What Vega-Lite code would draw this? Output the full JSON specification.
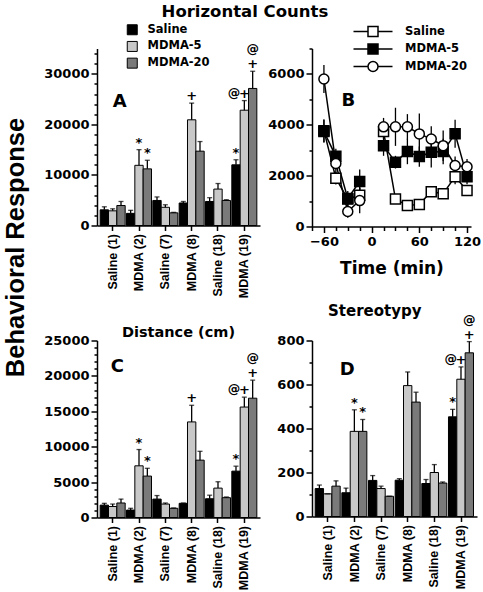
{
  "$schema": "https://vega.github.io/schema/vega-lite/v6.json",
  "background": "white",
  "padding": {"left": 3, "top": 3.5, "right": 0, "bottom": 0},
  "title": {"text": "Horizontal Counts", "fontSize": 16.5, "anchor": "middle", "dx": 0},
  "config": {
    "font": "DejaVu Sans",
    "view": {"stroke": null},
    "axis": {"labelFont": "DejaVu Sans", "labelFontWeight": "bold", "labelFontSize": 13, "labelColor": "black", "titleFont": "DejaVu Sans", "titleFontWeight": "bold", "titleColor": "black", "domainColor": "black", "tickColor": "black", "domainWidth": 1.5, "tickWidth": 1.5, "grid": false, "labelOverlap": false},
    "legend": {"labelFont": "DejaVu Sans", "labelFontWeight": "bold", "labelColor": "black"},
    "title": {"font": "DejaVu Sans", "fontWeight": "bold", "color": "black"},
    "text": {"font": "DejaVu Sans", "fontWeight": "bold", "color": "black"}
  },
  "datasets": {
    "hc": [
      {"group": "Saline (1)", "cond": "Saline", "mean": 3100, "hi": 3700},
      {"group": "Saline (1)", "cond": "MDMA-5", "mean": 2900, "hi": 3300},
      {"group": "Saline (1)", "cond": "MDMA-20", "mean": 3950, "hi": 4750},
      {"group": "MDMA (2)", "cond": "Saline", "mean": 2400, "hi": 3000},
      {"group": "MDMA (2)", "cond": "MDMA-5", "mean": 11900, "hi": 15000, "sig": "*"},
      {"group": "MDMA (2)", "cond": "MDMA-20", "mean": 11200, "hi": 12900, "sig": "*"},
      {"group": "Saline (7)", "cond": "Saline", "mean": 4950, "hi": 5650},
      {"group": "Saline (7)", "cond": "MDMA-5", "mean": 3600, "hi": 4100},
      {"group": "Saline (7)", "cond": "MDMA-20", "mean": 2500, "hi": 2600},
      {"group": "MDMA (8)", "cond": "Saline", "mean": 4450, "hi": 4750},
      {"group": "MDMA (8)", "cond": "MDMA-5", "mean": 20900, "hi": 24200, "sig": "+"},
      {"group": "MDMA (8)", "cond": "MDMA-20", "mean": 14700, "hi": 16600},
      {"group": "Saline (18)", "cond": "Saline", "mean": 4750, "hi": 5500},
      {"group": "Saline (18)", "cond": "MDMA-5", "mean": 7200, "hi": 8300},
      {"group": "Saline (18)", "cond": "MDMA-20", "mean": 4950, "hi": 5100},
      {"group": "MDMA (19)", "cond": "Saline", "mean": 12000, "hi": 13000, "sig": "*"},
      {"group": "MDMA (19)", "cond": "MDMA-5", "mean": 22800, "hi": 24700, "sig": "+", "sigL": "@"},
      {"group": "MDMA (19)", "cond": "MDMA-20", "mean": 27100, "hi": 30500, "sig": "+", "sigTop": "@"}
    ],
    "dist": [
      {"group": "Saline (1)", "cond": "Saline", "mean": 1750, "hi": 2000},
      {"group": "Saline (1)", "cond": "MDMA-5", "mean": 1550, "hi": 1900},
      {"group": "Saline (1)", "cond": "MDMA-20", "mean": 2050, "hi": 2600},
      {"group": "MDMA (2)", "cond": "Saline", "mean": 1050, "hi": 1300},
      {"group": "MDMA (2)", "cond": "MDMA-5", "mean": 7300, "hi": 9600, "sig": "*"},
      {"group": "MDMA (2)", "cond": "MDMA-20", "mean": 5850, "hi": 6950, "sig": "*"},
      {"group": "Saline (7)", "cond": "Saline", "mean": 2600, "hi": 3100},
      {"group": "Saline (7)", "cond": "MDMA-5", "mean": 1900, "hi": 2050},
      {"group": "Saline (7)", "cond": "MDMA-20", "mean": 1300, "hi": 1350},
      {"group": "MDMA (8)", "cond": "Saline", "mean": 2000, "hi": 2050},
      {"group": "MDMA (8)", "cond": "MDMA-5", "mean": 13500, "hi": 15850, "sig": "+"},
      {"group": "MDMA (8)", "cond": "MDMA-20", "mean": 8100, "hi": 9350},
      {"group": "Saline (18)", "cond": "Saline", "mean": 2650, "hi": 3150},
      {"group": "Saline (18)", "cond": "MDMA-5", "mean": 4150, "hi": 5050},
      {"group": "Saline (18)", "cond": "MDMA-20", "mean": 2800, "hi": 2900},
      {"group": "MDMA (19)", "cond": "Saline", "mean": 6550, "hi": 7250, "sig": "*"},
      {"group": "MDMA (19)", "cond": "MDMA-5", "mean": 15600, "hi": 17000, "sig": "+", "sigL": "@"},
      {"group": "MDMA (19)", "cond": "MDMA-20", "mean": 16850, "hi": 19400, "sig": "+", "sigTop": "@"}
    ],
    "stereo": [
      {"group": "Saline (1)", "cond": "Saline", "mean": 127, "hi": 143},
      {"group": "Saline (1)", "cond": "MDMA-5", "mean": 103, "hi": 103},
      {"group": "Saline (1)", "cond": "MDMA-20", "mean": 138, "hi": 162},
      {"group": "MDMA (2)", "cond": "Saline", "mean": 108, "hi": 129},
      {"group": "MDMA (2)", "cond": "MDMA-5", "mean": 387, "hi": 485, "sig": "*"},
      {"group": "MDMA (2)", "cond": "MDMA-20", "mean": 387, "hi": 441, "sig": "*"},
      {"group": "Saline (7)", "cond": "Saline", "mean": 164, "hi": 186},
      {"group": "Saline (7)", "cond": "MDMA-5", "mean": 127, "hi": 138},
      {"group": "Saline (7)", "cond": "MDMA-20", "mean": 92, "hi": 92},
      {"group": "MDMA (8)", "cond": "Saline", "mean": 165, "hi": 172},
      {"group": "MDMA (8)", "cond": "MDMA-5", "mean": 595, "hi": 657},
      {"group": "MDMA (8)", "cond": "MDMA-20", "mean": 520, "hi": 565},
      {"group": "Saline (18)", "cond": "Saline", "mean": 150, "hi": 168},
      {"group": "Saline (18)", "cond": "MDMA-5", "mean": 200, "hi": 236},
      {"group": "Saline (18)", "cond": "MDMA-20", "mean": 152, "hi": 157},
      {"group": "MDMA (19)", "cond": "Saline", "mean": 453, "hi": 487, "sig": "*"},
      {"group": "MDMA (19)", "cond": "MDMA-5", "mean": 624, "hi": 680, "sig": "+", "sigL": "@"},
      {"group": "MDMA (19)", "cond": "MDMA-20", "mean": 744, "hi": 795, "sig": "+", "sigTop": "@"}
    ],
    "tc": [
      {"time": -60, "cond": "Saline", "phase": "pre", "value": 3770, "lo": 3320, "hi": 4220},
      {"time": -45, "cond": "Saline", "phase": "pre", "value": 1900, "lo": 1650, "hi": 2150},
      {"time": -30, "cond": "Saline", "phase": "pre", "value": 1080, "lo": 830, "hi": 1330},
      {"time": -15, "cond": "Saline", "phase": "pre", "value": 1230, "lo": 930, "hi": 1530},
      {"time": 15, "cond": "Saline", "phase": "post", "value": 3740, "lo": 3440, "hi": 4040},
      {"time": 30, "cond": "Saline", "phase": "post", "value": 1080, "lo": 930, "hi": 1230},
      {"time": 45, "cond": "Saline", "phase": "post", "value": 830, "lo": 730, "hi": 930},
      {"time": 60, "cond": "Saline", "phase": "post", "value": 870, "lo": 770, "hi": 970},
      {"time": 75, "cond": "Saline", "phase": "post", "value": 1370, "lo": 1220, "hi": 1520},
      {"time": 90, "cond": "Saline", "phase": "post", "value": 1290, "lo": 1140, "hi": 1440},
      {"time": 105, "cond": "Saline", "phase": "post", "value": 1960, "lo": 1660, "hi": 2260},
      {"time": 120, "cond": "Saline", "phase": "post", "value": 1420, "lo": 1220, "hi": 1620},
      {"time": -60, "cond": "MDMA-5", "phase": "pre", "value": 3740, "lo": 3290, "hi": 4190},
      {"time": -45, "cond": "MDMA-5", "phase": "pre", "value": 2760, "lo": 2460, "hi": 3060},
      {"time": -30, "cond": "MDMA-5", "phase": "pre", "value": 1100, "lo": 800, "hi": 1400},
      {"time": -15, "cond": "MDMA-5", "phase": "pre", "value": 1770, "lo": 1300, "hi": 2240},
      {"time": 15, "cond": "MDMA-5", "phase": "post", "value": 3180, "lo": 2780, "hi": 3580},
      {"time": 30, "cond": "MDMA-5", "phase": "post", "value": 2530, "lo": 2280, "hi": 2780},
      {"time": 45, "cond": "MDMA-5", "phase": "post", "value": 2950, "lo": 2450, "hi": 3450},
      {"time": 60, "cond": "MDMA-5", "phase": "post", "value": 2750, "lo": 2350, "hi": 3150},
      {"time": 75, "cond": "MDMA-5", "phase": "post", "value": 2920, "lo": 2320, "hi": 3520},
      {"time": 90, "cond": "MDMA-5", "phase": "post", "value": 2950, "lo": 2450, "hi": 3450},
      {"time": 105, "cond": "MDMA-5", "phase": "post", "value": 3650, "lo": 3100, "hi": 4200},
      {"time": 120, "cond": "MDMA-5", "phase": "post", "value": 1960, "lo": 1660, "hi": 2260},
      {"time": -60, "cond": "MDMA-20", "phase": "pre", "value": 5800, "lo": 5250, "hi": 6350},
      {"time": -45, "cond": "MDMA-20", "phase": "pre", "value": 2480, "lo": 2080, "hi": 2880},
      {"time": -30, "cond": "MDMA-20", "phase": "pre", "value": 590, "lo": 340, "hi": 840},
      {"time": -15, "cond": "MDMA-20", "phase": "pre", "value": 1020, "lo": 520, "hi": 1520},
      {"time": 15, "cond": "MDMA-20", "phase": "post", "value": 3920, "lo": 3570, "hi": 4270},
      {"time": 30, "cond": "MDMA-20", "phase": "post", "value": 3920, "lo": 3170, "hi": 4670},
      {"time": 45, "cond": "MDMA-20", "phase": "post", "value": 3920, "lo": 3420, "hi": 4420},
      {"time": 60, "cond": "MDMA-20", "phase": "post", "value": 3640, "lo": 2840, "hi": 4440},
      {"time": 75, "cond": "MDMA-20", "phase": "post", "value": 3440, "lo": 2940, "hi": 3940},
      {"time": 90, "cond": "MDMA-20", "phase": "post", "value": 3180, "lo": 2580, "hi": 3780},
      {"time": 105, "cond": "MDMA-20", "phase": "post", "value": 2400, "lo": 2050, "hi": 2750},
      {"time": 120, "cond": "MDMA-20", "phase": "post", "value": 2350, "lo": 2050, "hi": 2650}
    ]
  },
  "columns": 2,
  "bounds": "flush",
  "spacing": {"row": 114, "column": 52},
  "concat": [
    {
      "width": 163, "height": 177,
      "data": {"name": "hc"},
      "resolve": {"axis": {"y": "independent"}},
      "layer": [
        {
          "mark": {"type": "bar", "stroke": "black", "strokeWidth": 1},
          "encoding": {
            "x": {"field": "group", "type": "nominal", "sort": ["Saline (1)", "MDMA (2)", "Saline (7)", "MDMA (8)", "Saline (18)", "MDMA (19)"], "scale": {"paddingInner": 0.05, "paddingOuter": 0.12}, "axis": {"title": null, "labelAngle": -90, "labelFont": "Liberation Sans", "labelFontSize": 12.5, "tickSize": 5, "labelPadding": 3}},
            "xOffset": {"field": "cond", "type": "nominal", "sort": ["Saline", "MDMA-5", "MDMA-20"], "scale": {"paddingInner": 0, "paddingOuter": 0}},
            "y": {"field": "mean", "type": "quantitative", "scale": {"domain": [0, 35000], "nice": false},
              "axis": {"orient": "left", "title": "Behavioral Response", "titleFont": "Liberation Sans", "titleFontSize": 25.5, "titleX": -73.7, "titleY": 198.5, "titleAngle": -90, "titleAlign": "center", "titleBaseline": "alphabetic",
                "values": [0, 10000, 20000, 30000], "format": "d", "tickSize": 6, "labelPadding": 2}},
            "fill": {"field": "cond", "type": "nominal", "scale": {"domain": ["Saline", "MDMA-5", "MDMA-20"], "range": ["black", "#c8c8c8", "#7a7a7a"]},
              "legend": {"title": null, "orient": "none", "legendX": 29.5, "legendY": -24.5, "symbolType": "square", "symbolSize": 100, "symbolStrokeColor": "black", "symbolStrokeWidth": 1, "labelFontSize": 11.5, "labelOffset": 9.5, "rowPadding": 1.7, "padding": 0}}
          }
        },
        {
          "mark": {"type": "rule", "color": "black", "strokeWidth": 1.3},
          "encoding": {
            "x": {"field": "group", "type": "nominal", "sort": ["Saline (1)", "MDMA (2)", "Saline (7)", "MDMA (8)", "Saline (18)", "MDMA (19)"]},
            "xOffset": {"field": "cond", "type": "nominal", "sort": ["Saline", "MDMA-5", "MDMA-20"]},
            "y": {"field": "mean", "type": "quantitative",
              "axis": {"orient": "left", "title": null, "labels": false, "domain": false, "tickSize": 3, "values": [2000, 4000, 6000, 8000, 12000, 14000, 16000, 18000, 22000, 24000, 26000, 28000, 32000, 34000]}},
            "y2": {"field": "hi"}
          }
        },
        {
          "mark": {"type": "tick", "color": "black", "thickness": 1.3, "size": 5},
          "encoding": {
            "x": {"field": "group", "type": "nominal", "sort": ["Saline (1)", "MDMA (2)", "Saline (7)", "MDMA (8)", "Saline (18)", "MDMA (19)"]},
            "xOffset": {"field": "cond", "type": "nominal", "sort": ["Saline", "MDMA-5", "MDMA-20"]},
            "y": {"field": "hi", "type": "quantitative", "axis": null}
          }
        },
        {
          "transform": [{"filter": "isValid(datum.sig)"}],
          "mark": {"type": "text", "fontSize": 13, "fill": "black", "baseline": "alphabetic", "dy": -3},
          "encoding": {
            "x": {"field": "group", "type": "nominal", "sort": ["Saline (1)", "MDMA (2)", "Saline (7)", "MDMA (8)", "Saline (18)", "MDMA (19)"]},
            "xOffset": {"field": "cond", "type": "nominal", "sort": ["Saline", "MDMA-5", "MDMA-20"]},
            "y": {"field": "hi", "type": "quantitative", "axis": null},
            "text": {"field": "sig"}
          }
        },
        {
          "transform": [{"filter": "isValid(datum.sigL)"}],
          "mark": {"type": "text", "fontSize": 12.5, "fill": "black", "baseline": "alphabetic", "align": "right", "dx": -4, "dy": -4},
          "encoding": {
            "x": {"field": "group", "type": "nominal", "sort": ["Saline (1)", "MDMA (2)", "Saline (7)", "MDMA (8)", "Saline (18)", "MDMA (19)"]},
            "xOffset": {"field": "cond", "type": "nominal", "sort": ["Saline", "MDMA-5", "MDMA-20"]},
            "y": {"field": "hi", "type": "quantitative", "axis": null},
            "text": {"field": "sigL"}
          }
        },
        {
          "transform": [{"filter": "isValid(datum.sigTop)"}],
          "mark": {"type": "text", "fontSize": 12.5, "fill": "black", "baseline": "alphabetic", "dy": -18},
          "encoding": {
            "x": {"field": "group", "type": "nominal", "sort": ["Saline (1)", "MDMA (2)", "Saline (7)", "MDMA (8)", "Saline (18)", "MDMA (19)"]},
            "xOffset": {"field": "cond", "type": "nominal", "sort": ["Saline", "MDMA-5", "MDMA-20"]},
            "y": {"field": "hi", "type": "quantitative", "axis": null},
            "text": {"field": "sigTop"}
          }
        },
        {
          "data": {"values": [{"panel": "A"}]},
          "mark": {"type": "text", "fontSize": 18, "fill": "black", "align": "left", "baseline": "alphabetic"},
          "encoding": {
            "x": {"datum": "Saline (1)"},
            "y": {"datum": 23500, "axis": null},
            "text": {"field": "panel"}
          }
        }
      ]
    },
    {
      "width": 159, "height": 178,
      "data": {"name": "tc"},
      "resolve": {"scale": {"shape": "independent", "fill": "independent"}, "axis": {"x": "independent", "y": "independent"}},
      "layer": [
        {
          "mark": {"type": "rule", "color": "black", "strokeWidth": 1.3},
          "encoding": {
            "x": {"field": "time", "type": "quantitative", "scale": {"domain": [-75, 125], "nice": false},
              "axis": {"orient": "bottom", "title": "Time (min)", "titleFontSize": 17, "titlePadding": 12, "values": [-60, 0, 60, 120], "format": "d", "tickSize": 6, "labelPadding": 3}},
            "y": {"field": "lo", "type": "quantitative", "scale": {"domain": [0, 7000], "nice": false},
              "axis": {"orient": "left", "title": null, "values": [0, 2000, 4000, 6000], "format": "d", "tickSize": 6, "labelPadding": 2}},
            "y2": {"field": "hi"}
          }
        },
        {
          "mark": {"type": "line", "color": "black", "strokeWidth": 1.5},
          "encoding": {
            "x": {"field": "time", "type": "quantitative",
              "axis": {"orient": "bottom", "title": null, "labels": false, "domain": false, "tickSize": 4, "values": [-75, -45, -30, -15, 15, 30, 45, 75, 90, 105]}},
            "y": {"field": "value", "type": "quantitative",
              "axis": {"orient": "left", "title": null, "labels": false, "domain": false, "tickSize": 3, "values": [1000, 3000, 5000, 7000]}},
            "detail": [{"field": "cond"}, {"field": "phase"}]
          }
        },
        {
          "mark": {"type": "point", "filled": true, "stroke": "black", "strokeWidth": 1.5, "size": 100, "opacity": 1},
          "encoding": {
            "x": {"field": "time", "type": "quantitative", "axis": null},
            "y": {"field": "value", "type": "quantitative", "axis": null},
            "shape": {"field": "cond", "type": "nominal", "scale": {"domain": ["Saline", "MDMA-5", "MDMA-20"], "range": ["square", "square", "circle"]}, "legend": null},
            "fill": {"field": "cond", "type": "nominal", "scale": {"domain": ["Saline", "MDMA-5", "MDMA-20"], "range": ["white", "black", "white"]}, "legend": null}
          }
        },
        {
          "mark": {"type": "point", "filled": true, "stroke": "black", "strokeWidth": 1.5, "size": 100, "opacity": 0},
          "encoding": {
            "x": {"field": "time", "type": "quantitative", "axis": null},
            "y": {"field": "value", "type": "quantitative", "axis": null},
            "shape": {"field": "cond", "type": "nominal", "scale": {"domain": ["Saline", "MDMA-5", "MDMA-20"], "range": ["M-3.9,0H-1M1,0H3.9M-1,-1H1V1H-1Z", "M-3.9,0H-1M1,0H3.9M-1,-1H1V1H-1Z", "M-3.9,0H-1M1,0H3.9M1,0A1,1,0,1,1,-1,0A1,1,0,1,1,1,0Z"]},
              "legend": {"title": null, "orient": "none", "legendX": 55, "legendY": -23, "symbolSize": 100, "symbolOpacity": 1, "symbolStrokeColor": "black", "symbolStrokeWidth": 1.5, "labelFontSize": 11.5, "labelOffset": 26, "rowPadding": 1.5, "padding": 0,
                "encode": {"symbols": {"update": {"stroke": {"value": "black"}, "strokeWidth": {"value": 1.5}, "opacity": {"value": 1}}}}}},
            "fill": {"field": "cond", "type": "nominal", "scale": {"domain": ["Saline", "MDMA-5", "MDMA-20"], "range": ["white", "black", "white"]},
              "legend": {"title": null, "orient": "none", "legendX": 55, "legendY": -23, "symbolSize": 100, "symbolOpacity": 1, "symbolStrokeColor": "black", "symbolStrokeWidth": 1.5, "labelFontSize": 11.5, "labelOffset": 26, "rowPadding": 1.5, "padding": 0,
                "encode": {"symbols": {"update": {"stroke": {"value": "black"}, "strokeWidth": {"value": 1.5}, "opacity": {"value": 1}}}}}}
          }
        },
        {
          "data": {"values": [{"panel": "B"}]},
          "mark": {"type": "text", "fontSize": 18, "fill": "black", "align": "left", "baseline": "alphabetic"},
          "encoding": {
            "x": {"datum": -38, "axis": null},
            "y": {"datum": 4720, "axis": null},
            "text": {"field": "panel"}
          }
        }
      ]
    },
    {
      "width": 163, "height": 177,
      "data": {"name": "dist"},
      "title": {"text": "Distance (cm)", "fontSize": 14.5, "anchor": "middle", "frame": "group", "offset": -5.5},
      "resolve": {"axis": {"y": "independent"}},
      "layer": [
        {
          "mark": {"type": "bar", "stroke": "black", "strokeWidth": 1},
          "encoding": {
            "x": {"field": "group", "type": "nominal", "sort": ["Saline (1)", "MDMA (2)", "Saline (7)", "MDMA (8)", "Saline (18)", "MDMA (19)"], "scale": {"paddingInner": 0.05, "paddingOuter": 0.12}, "axis": {"title": null, "labelAngle": -90, "labelFont": "Liberation Sans", "labelFontSize": 12.5, "tickSize": 5, "labelPadding": 3}},
            "xOffset": {"field": "cond", "type": "nominal", "sort": ["Saline", "MDMA-5", "MDMA-20"], "scale": {"paddingInner": 0, "paddingOuter": 0}},
            "y": {"field": "mean", "type": "quantitative", "scale": {"domain": [0, 25000], "nice": false},
              "axis": {"orient": "left", "title": null, "values": [0, 5000, 10000, 15000, 20000, 25000], "format": "d", "tickSize": 6, "labelPadding": 2}},
            "fill": {"field": "cond", "type": "nominal", "scale": {"domain": ["Saline", "MDMA-5", "MDMA-20"], "range": ["black", "#c8c8c8", "#7a7a7a"]}, "legend": null}
          }
        },
        {
          "mark": {"type": "rule", "color": "black", "strokeWidth": 1.3},
          "encoding": {
            "x": {"field": "group", "type": "nominal", "sort": ["Saline (1)", "MDMA (2)", "Saline (7)", "MDMA (8)", "Saline (18)", "MDMA (19)"]},
            "xOffset": {"field": "cond", "type": "nominal", "sort": ["Saline", "MDMA-5", "MDMA-20"]},
            "y": {"field": "mean", "type": "quantitative",
              "axis": {"orient": "left", "title": null, "labels": false, "domain": false, "tickSize": 3, "values": [1000, 2000, 3000, 4000, 6000, 7000, 8000, 9000, 11000, 12000, 13000, 14000, 16000, 17000, 18000, 19000, 21000, 22000, 23000, 24000]}},
            "y2": {"field": "hi"}
          }
        },
        {
          "mark": {"type": "tick", "color": "black", "thickness": 1.3, "size": 5},
          "encoding": {
            "x": {"field": "group", "type": "nominal", "sort": ["Saline (1)", "MDMA (2)", "Saline (7)", "MDMA (8)", "Saline (18)", "MDMA (19)"]},
            "xOffset": {"field": "cond", "type": "nominal", "sort": ["Saline", "MDMA-5", "MDMA-20"]},
            "y": {"field": "hi", "type": "quantitative", "axis": null}
          }
        },
        {
          "transform": [{"filter": "isValid(datum.sig)"}],
          "mark": {"type": "text", "fontSize": 13, "fill": "black", "baseline": "alphabetic", "dy": -3},
          "encoding": {
            "x": {"field": "group", "type": "nominal", "sort": ["Saline (1)", "MDMA (2)", "Saline (7)", "MDMA (8)", "Saline (18)", "MDMA (19)"]},
            "xOffset": {"field": "cond", "type": "nominal", "sort": ["Saline", "MDMA-5", "MDMA-20"]},
            "y": {"field": "hi", "type": "quantitative", "axis": null},
            "text": {"field": "sig"}
          }
        },
        {
          "transform": [{"filter": "isValid(datum.sigL)"}],
          "mark": {"type": "text", "fontSize": 12.5, "fill": "black", "baseline": "alphabetic", "align": "right", "dx": -4, "dy": -4},
          "encoding": {
            "x": {"field": "group", "type": "nominal", "sort": ["Saline (1)", "MDMA (2)", "Saline (7)", "MDMA (8)", "Saline (18)", "MDMA (19)"]},
            "xOffset": {"field": "cond", "type": "nominal", "sort": ["Saline", "MDMA-5", "MDMA-20"]},
            "y": {"field": "hi", "type": "quantitative", "axis": null},
            "text": {"field": "sigL"}
          }
        },
        {
          "transform": [{"filter": "isValid(datum.sigTop)"}],
          "mark": {"type": "text", "fontSize": 12.5, "fill": "black", "baseline": "alphabetic", "dy": -18},
          "encoding": {
            "x": {"field": "group", "type": "nominal", "sort": ["Saline (1)", "MDMA (2)", "Saline (7)", "MDMA (8)", "Saline (18)", "MDMA (19)"]},
            "xOffset": {"field": "cond", "type": "nominal", "sort": ["Saline", "MDMA-5", "MDMA-20"]},
            "y": {"field": "hi", "type": "quantitative", "axis": null},
            "text": {"field": "sigTop"}
          }
        },
        {
          "data": {"values": [{"panel": "C"}]},
          "mark": {"type": "text", "fontSize": 18, "fill": "black", "align": "left", "baseline": "alphabetic", "dx": -2},
          "encoding": {
            "x": {"datum": "Saline (1)"},
            "y": {"datum": 20500, "axis": null},
            "text": {"field": "panel"}
          }
        }
      ]
    },
    {
      "width": 165, "height": 176,
      "data": {"name": "stereo"},
      "title": {"text": "Stereotypy", "fontSize": 15, "anchor": "start", "frame": "group", "dx": 16, "offset": -5.5},
      "resolve": {"axis": {"y": "independent"}},
      "layer": [
        {
          "mark": {"type": "bar", "stroke": "black", "strokeWidth": 1},
          "encoding": {
            "x": {"field": "group", "type": "nominal", "sort": ["Saline (1)", "MDMA (2)", "Saline (7)", "MDMA (8)", "Saline (18)", "MDMA (19)"], "scale": {"paddingInner": 0.05, "paddingOuter": 0.12}, "axis": {"title": null, "labelAngle": -90, "labelFont": "Liberation Sans", "labelFontSize": 12.5, "tickSize": 5, "labelPadding": 3}},
            "xOffset": {"field": "cond", "type": "nominal", "sort": ["Saline", "MDMA-5", "MDMA-20"], "scale": {"paddingInner": 0, "paddingOuter": 0}},
            "y": {"field": "mean", "type": "quantitative", "scale": {"domain": [0, 800], "nice": false},
              "axis": {"orient": "left", "title": null, "values": [0, 200, 400, 600, 800], "format": "d", "tickSize": 6, "labelPadding": 2}},
            "fill": {"field": "cond", "type": "nominal", "scale": {"domain": ["Saline", "MDMA-5", "MDMA-20"], "range": ["black", "#c8c8c8", "#7a7a7a"]}, "legend": null}
          }
        },
        {
          "mark": {"type": "rule", "color": "black", "strokeWidth": 1.3},
          "encoding": {
            "x": {"field": "group", "type": "nominal", "sort": ["Saline (1)", "MDMA (2)", "Saline (7)", "MDMA (8)", "Saline (18)", "MDMA (19)"]},
            "xOffset": {"field": "cond", "type": "nominal", "sort": ["Saline", "MDMA-5", "MDMA-20"]},
            "y": {"field": "mean", "type": "quantitative",
              "axis": {"orient": "left", "title": null, "labels": false, "domain": false, "tickSize": 3, "values": [100, 300, 500, 700]}},
            "y2": {"field": "hi"}
          }
        },
        {
          "mark": {"type": "tick", "color": "black", "thickness": 1.3, "size": 5},
          "encoding": {
            "x": {"field": "group", "type": "nominal", "sort": ["Saline (1)", "MDMA (2)", "Saline (7)", "MDMA (8)", "Saline (18)", "MDMA (19)"]},
            "xOffset": {"field": "cond", "type": "nominal", "sort": ["Saline", "MDMA-5", "MDMA-20"]},
            "y": {"field": "hi", "type": "quantitative", "axis": null}
          }
        },
        {
          "transform": [{"filter": "isValid(datum.sig)"}],
          "mark": {"type": "text", "fontSize": 13, "fill": "black", "baseline": "alphabetic", "dy": -3},
          "encoding": {
            "x": {"field": "group", "type": "nominal", "sort": ["Saline (1)", "MDMA (2)", "Saline (7)", "MDMA (8)", "Saline (18)", "MDMA (19)"]},
            "xOffset": {"field": "cond", "type": "nominal", "sort": ["Saline", "MDMA-5", "MDMA-20"]},
            "y": {"field": "hi", "type": "quantitative", "axis": null},
            "text": {"field": "sig"}
          }
        },
        {
          "transform": [{"filter": "isValid(datum.sigL)"}],
          "mark": {"type": "text", "fontSize": 12.5, "fill": "black", "baseline": "alphabetic", "align": "right", "dx": -4, "dy": -4},
          "encoding": {
            "x": {"field": "group", "type": "nominal", "sort": ["Saline (1)", "MDMA (2)", "Saline (7)", "MDMA (8)", "Saline (18)", "MDMA (19)"]},
            "xOffset": {"field": "cond", "type": "nominal", "sort": ["Saline", "MDMA-5", "MDMA-20"]},
            "y": {"field": "hi", "type": "quantitative", "axis": null},
            "text": {"field": "sigL"}
          }
        },
        {
          "transform": [{"filter": "isValid(datum.sigTop)"}],
          "mark": {"type": "text", "fontSize": 12.5, "fill": "black", "baseline": "alphabetic", "dy": -18},
          "encoding": {
            "x": {"field": "group", "type": "nominal", "sort": ["Saline (1)", "MDMA (2)", "Saline (7)", "MDMA (8)", "Saline (18)", "MDMA (19)"]},
            "xOffset": {"field": "cond", "type": "nominal", "sort": ["Saline", "MDMA-5", "MDMA-20"]},
            "y": {"field": "hi", "type": "quantitative", "axis": null},
            "text": {"field": "sigTop"}
          }
        },
        {
          "data": {"values": [{"panel": "D"}]},
          "mark": {"type": "text", "fontSize": 18, "fill": "black", "align": "left", "baseline": "alphabetic", "dx": 12},
          "encoding": {
            "x": {"datum": "Saline (1)"},
            "y": {"datum": 641, "axis": null},
            "text": {"field": "panel"}
          }
        }
      ]
    }
  ]
}
